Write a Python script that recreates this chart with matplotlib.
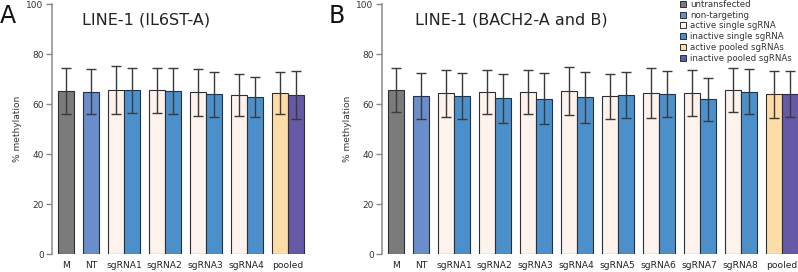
import matplotlib
matplotlib.use("Agg")
import matplotlib.pyplot as plt
from matplotlib.patches import Patch
import numpy as np

# colours per condition
COL_M = "#7b7b7b"
COL_NT = "#6a8dcb"
COL_ACT = "#fdf2ec"
COL_INACT = "#4b90cb"
COL_ACT_POOL = "#fddca8"
COL_INACT_POOL = "#6659a6"
EDGE = "#2a2f3a"
ERR = "#3a3a3a"

# panel A: LINE-1 (IL6ST-A)
a_single = [65.2, 65.0]          # M, NT
a_single_err = [9.2, 9.0]
a_active = [65.6, 65.6, 64.7, 63.5]
a_active_err = [9.6, 9.0, 9.4, 8.4]
a_inactive = [65.5, 65.2, 64.0, 62.8]
a_inactive_err = [9.0, 9.2, 9.0, 8.1]
a_pooled = [64.4, 63.7]          # active, inactive
a_pooled_err = [8.5, 9.5]

# panel B: LINE-1 (BACH2-A and B)
b_single = [65.6, 63.3]
b_single_err = [8.9, 9.3]
b_active = [64.3, 64.8, 64.8, 65.2, 63.1, 64.4, 64.4, 65.5]
b_active_err = [9.5, 8.9, 8.9, 9.6, 9.1, 10.0, 9.3, 8.8]
b_inactive = [63.2, 62.3, 62.1, 62.7, 63.6, 64.1, 62.0, 65.0]
b_inactive_err = [9.05, 9.9, 10.15, 10.25, 9.3, 9.15, 8.6, 9.1]
b_pooled = [63.9, 64.0]
b_pooled_err = [9.35, 9.25]

legend_labels = ["untransfected", "non-targeting", "active single sgRNA",
                 "inactive single sgRNA", "active pooled sgRNAs",
                 "inactive pooled sgRNAs"]

GAP = 0.56  # gap between groups, in bar widths
W = 1.0


def draw_panel(ax, single, single_err, active, active_err, inactive, inactive_err,
               pooled, pooled_err, title):
    xs, hs, es, cs, ticks, labels = [], [], [], [], [], []
    x = 0.0
    for lab, h, e, c in zip(["M", "NT"], single, single_err, [COL_M, COL_NT]):
        xs.append(x); hs.append(h); es.append(e); cs.append(c)
        ticks.append(x); labels.append(lab)
        x += W + GAP
    for i in range(len(active)):
        xs += [x, x + W]; hs += [active[i], inactive[i]]
        es += [active_err[i], inactive_err[i]]; cs += [COL_ACT, COL_INACT]
        ticks.append(x + W / 2); labels.append(f"sgRNA{i + 1}")
        x += 2 * W + GAP
    xs += [x, x + W]; hs += pooled; es += pooled_err
    cs += [COL_ACT_POOL, COL_INACT_POOL]
    ticks.append(x + W / 2); labels.append("pooled")

    ax.bar(xs, hs, width=W, color=cs, edgecolor=EDGE, linewidth=0.8, zorder=2)
    ax.errorbar(xs, hs, yerr=es, fmt="none", ecolor=ERR, elinewidth=1.0,
                capsize=3.8, capthick=1.0, zorder=3)

    ax.set_ylim(0, 100)
    ax.set_yticks([0, 20, 40, 60, 80, 100])
    ax.set_xticks(ticks)
    ax.set_xticklabels(labels)
    ax.tick_params(axis="x", length=0, pad=5, labelsize=6.6, labelcolor="#222222")
    ax.tick_params(axis="y", length=4, width=1, color="#888888", labelsize=6.5,
                   labelcolor="#333333", pad=2)
    for s in ["top", "right", "bottom"]:
        ax.spines[s].set_visible(False)
    ax.spines["left"].set_color("#8a8a8a")
    ax.spines["left"].set_linewidth(1.1)
    ax.set_ylabel("% methylation", fontsize=6.5, color="#333333", labelpad=3)
    ax.text(0.12, 0.94, title, transform=ax.transAxes, fontsize=11.5,
            color="#222222", va="center", ha="left")


fig = plt.figure(figsize=(7.98, 2.72), dpi=100)
FW, FH = 798.0, 272.0
y0 = (FH - 254) / FH
hgt = 250 / FH
scale = 16.0  # pixels per bar width

axA = fig.add_axes([52 / FW, y0, 258 / FW, hgt])
draw_panel(axA, a_single, a_single_err, a_active, a_active_err, a_inactive,
           a_inactive_err, a_pooled, a_pooled_err, "LINE-1 (IL6ST-A)")
axA.set_xlim(-0.875, -0.875 + 258 / scale)
axA.texts[0].set_position(((82 - 52) / 258, 0.935))

axB = fig.add_axes([382 / FW, y0, 416 / FW, hgt])
draw_panel(axB, b_single, b_single_err, b_active, b_active_err, b_inactive,
           b_inactive_err, b_pooled, b_pooled_err, "LINE-1 (BACH2-A and B)")
axB.set_xlim(-0.875, -0.875 + 416 / scale)
axB.texts[0].set_position(((415 - 382) / 416, 0.935))

fig.text(0 / FW, 1 - 16 / FH, "A", fontsize=17, va="center", ha="left", color="#111111")
fig.text(329 / FW, 1 - 16 / FH, "B", fontsize=17, va="center", ha="left", color="#111111")

handles = [Patch(facecolor=c, edgecolor=EDGE, linewidth=0.7) for c in
           [COL_M, COL_NT, COL_ACT, COL_INACT, COL_ACT_POOL, COL_INACT_POOL]]
fig.legend(handles, legend_labels, loc="upper left", bbox_to_anchor=(680 / FW, 1.0),
           frameon=False, fontsize=6.2, handlelength=0.7, handleheight=0.7,
           handletextpad=0.5, labelspacing=0.2, borderaxespad=0, borderpad=0,
           labelcolor="#333333")

fig.savefig("out.png", dpi=100)
